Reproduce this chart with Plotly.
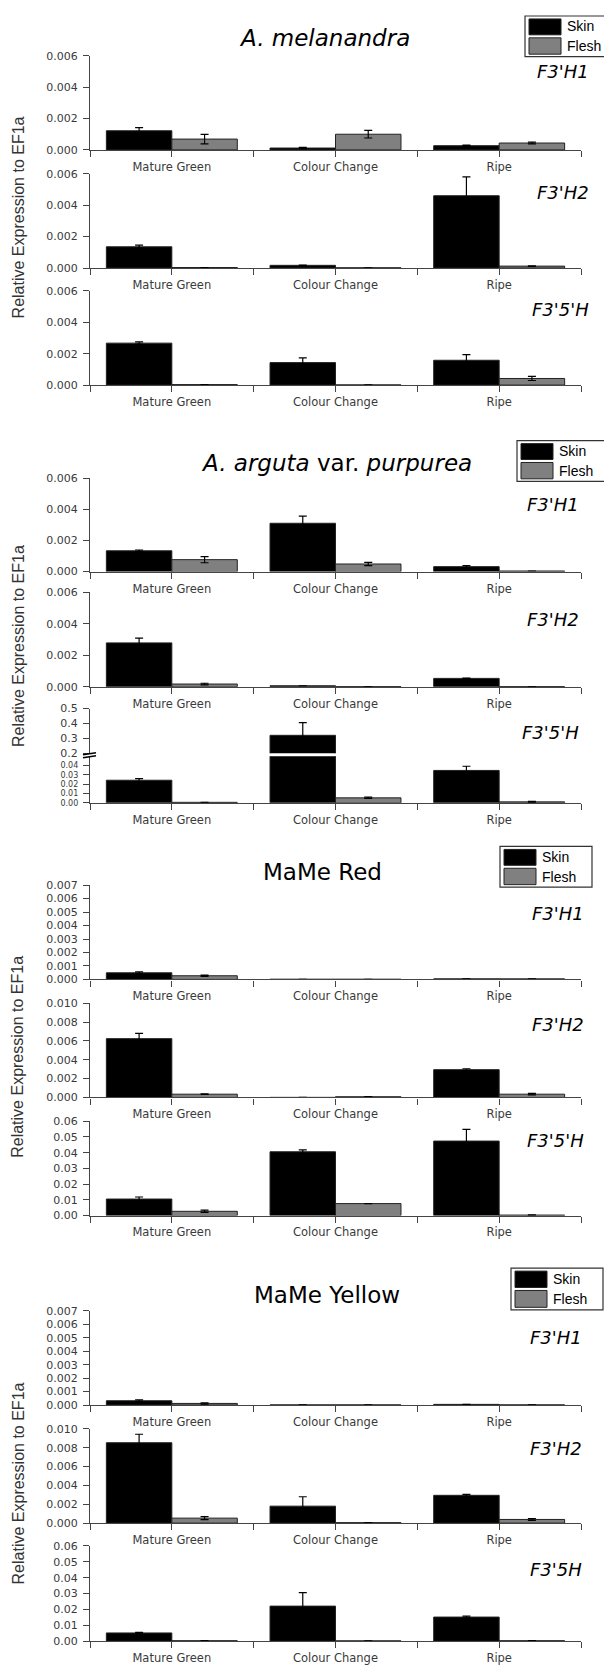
import plotly.graph_objects as go

W, H = 612, 1665

stages = ["Mature Green", "Colour Change", "Ripe"]
x_pos = [0, 1, 2]

# A. melanandra
mel_h1_skin = [0.00122, 0.00012, 0.00027]
mel_h1_skin_err = [0.0002, 0.00004, 0.00004]
mel_h1_flesh = [0.00069, 0.00100, 0.00044]
mel_h1_flesh_err = [0.0003, 0.00024, 0.00006]
mel_h2_skin = [0.00135, 0.00017, 0.0046]
mel_h2_skin_err = [0.0001, 0.00002, 0.0012]
mel_h2_flesh = [0.00003, 0.00001, 0.00012]
mel_h2_flesh_err = [0.0, 0.0, 0.00002]
mel_h35_skin = [0.00267, 0.00143, 0.00158]
mel_h35_skin_err = [0.00008, 0.0003, 0.00036]
mel_h35_flesh = [0.00003, 0.00001, 0.00042]
mel_h35_flesh_err = [0.0, 0.0, 0.00013]

# A. arguta var. purpurea
arg_h1_skin = [0.00134, 0.00311, 0.00032]
arg_h1_skin_err = [0.00005, 0.00046, 0.00006]
arg_h1_flesh = [0.00077, 0.00049, 0.00004]
arg_h1_flesh_err = [0.0002, 0.0001, 0.0]
arg_h2_skin = [0.00279, 0.00006, 0.00053]
arg_h2_skin_err = [0.0003, 0.0, 0.00002]
arg_h2_flesh = [0.00017, 0.00001, 0.00001]
arg_h2_flesh_err = [0.00005, 0.0, 0.0]
arg_h35_skin = [0.0242, 0.32, 0.0347]
arg_h35_skin_err = [0.0018, 0.085, 0.0045]
arg_h35_flesh = [0.0005, 0.0053, 0.001]
arg_h35_flesh_err = [0.0001, 0.0007, 0.0005]

# MaMe Red
red_h1_skin = [0.00049, 0.00001, 0.00004]
red_h1_skin_err = [0.00007, 0.0, 0.0]
red_h1_flesh = [0.00027, 0.00001, 0.00004]
red_h1_flesh_err = [0.00004, 0.0, 0.0]
red_h2_skin = [0.00624, 0.00001, 0.00295]
red_h2_skin_err = [0.00057, 0.0, 0.0001]
red_h2_flesh = [0.00035, 0.00008, 0.00035]
red_h2_flesh_err = [0.00003, 0.0, 0.00008]
red_h35_skin = [0.0105, 0.0406, 0.0474]
red_h35_skin_err = [0.0013, 0.0012, 0.0074]
red_h35_flesh = [0.0027, 0.0076, 0.0003]
red_h35_flesh_err = [0.0007, 0.0, 0.0002]

# MaMe Yellow
yel_h1_skin = [0.00032, 0.00001, 0.00005]
yel_h1_skin_err = [0.00006, 0.0, 0.0]
yel_h1_flesh = [0.00012, 0.00001, 0.00001]
yel_h1_flesh_err = [0.00005, 0.0, 0.0]
yel_h2_skin = [0.00853, 0.0018, 0.00295]
yel_h2_skin_err = [0.0009, 0.001, 0.0001]
yel_h2_flesh = [0.00053, 0.00005, 0.00039]
yel_h2_flesh_err = [0.00015, 0.0, 0.0001]
yel_h35_skin = [0.0052, 0.0221, 0.0152]
yel_h35_skin_err = [0.0004, 0.0085, 0.0006]
yel_h35_flesh = [0.0003, 0.0002, 0.0003]
yel_h35_flesh_err = [0.0, 0.0, 0.0]

SKIN = "black"
FLESH = "#808080"
AXIS = "#444444"
X0, X1 = 82, 573


def px(x):
    return x / W


def py(y):
    return 1 - y / H


fig = go.Figure()
layout = {}
shapes = []
annotations = []
n_axes = [0]


def add_subplot(top, bottom, yrange, yticks, fmt, skin, skin_err, flesh, flesh_err,
                show_x=True, ysize=11):
    n_axes[0] += 1
    n = n_axes[0]
    key = "" if n == 1 else str(n)
    xa, ya = "x" + key, "y" + key
    for vals, errs, color in [(skin, skin_err, SKIN), (flesh, flesh_err, FLESH)]:
        fig.add_trace(go.Bar(
            x=x_pos, y=vals, xaxis=xa, yaxis=ya, showlegend=False,
            marker=dict(color=color, line=dict(color="#222222", width=1)),
            error_y=dict(type="data", array=errs, color="black", thickness=1.2, width=4),
        ))
    layout["xaxis" + key] = dict(
        domain=[px(X0), px(X1)], anchor=ya, range=[-0.5, 2.5],
        tickmode="array", tickvals=x_pos, ticktext=stages,
        showticklabels=show_x, ticks="outside" if show_x else "", ticklen=6,
        tickcolor=AXIS, showline=show_x, linecolor=AXIS, linewidth=1.2,
        showgrid=False, zeroline=False,
        tickfont=dict(family="DejaVu Sans", size=11.5, color="#3a3a3a"),
        minor=dict(tickmode="array", tickvals=[-0.5, 0.5, 1.5, 2.5],
                   ticks="outside" if show_x else "", ticklen=6, tickcolor=AXIS, showgrid=False),
    )
    layout["yaxis" + key] = dict(
        domain=[py(bottom), py(top)], anchor=xa, range=yrange,
        tickmode="array", tickvals=yticks, tickformat=fmt,
        ticks="outside", ticklen=6, tickcolor=AXIS, showline=True,
        linecolor=AXIS, linewidth=1.2, showgrid=False, zeroline=False,
        tickfont=dict(family="DejaVu Sans", size=ysize, color="#3a3a3a"),
        ticklabelstandoff=3,
    )


def add_legend(left, top, right, bottom):
    mid = (top + bottom) / 2
    shapes.append(dict(type="rect", xref="paper", yref="paper", x0=px(left), x1=px(right),
                       y0=py(bottom), y1=py(top), line=dict(color="#333333", width=1.2),
                       fillcolor="white"))
    sw0, sw1 = left + 4, left + 36
    shapes.append(dict(type="rect", xref="paper", yref="paper", x0=px(sw0), x1=px(sw1),
                       y0=py(mid - 1.5), y1=py(top + 3), fillcolor=SKIN,
                       line=dict(color="#222222", width=1)))
    shapes.append(dict(type="rect", xref="paper", yref="paper", x0=px(sw0), x1=px(sw1),
                       y0=py(bottom - 2.5), y1=py(mid + 1.5), fillcolor=FLESH,
                       line=dict(color="#222222", width=1)))
    for txt, yc in [("Skin", (top + mid) / 2), ("Flesh", (mid + bottom) / 2)]:
        annotations.append(dict(text=txt, xref="paper", yref="paper", x=px(sw1 + 4), y=py(yc),
                                xanchor="left", yanchor="middle", showarrow=False,
                                font=dict(family="Liberation Sans, Arial, sans-serif",
                                          size=14, color="black")))


def add_text(txt, x, y, size, anchor="center", angle=0, color="black", family="DejaVu Sans"):
    annotations.append(dict(text=txt, xref="paper", yref="paper", x=px(x), y=py(y),
                            xanchor=anchor, yanchor="middle", showarrow=False, textangle=angle,
                            font=dict(family=family, size=size, color=color)))


YTITLE = "Relative Expression to EF1a"
YFONT = "Liberation Sans, Arial, sans-serif"
t3 = [0, 0.002, 0.004, 0.006]
t7 = [0, 0.001, 0.002, 0.003, 0.004, 0.005, 0.006, 0.007]
t10 = [0, 0.002, 0.004, 0.006, 0.008, 0.010]
t06 = [0, 0.01, 0.02, 0.03, 0.04, 0.05, 0.06]

# Panel 1: A. melanandra
add_subplot(42, 137, [0, 0.006], t3, ".3f", mel_h1_skin, mel_h1_skin_err, mel_h1_flesh, mel_h1_flesh_err)
add_subplot(161, 256, [0, 0.006], t3, ".3f", mel_h2_skin, mel_h2_skin_err, mel_h2_flesh, mel_h2_flesh_err)
add_subplot(279, 374, [0, 0.006], t3, ".3f", mel_h35_skin, mel_h35_skin_err, mel_h35_flesh, mel_h35_flesh_err)
add_text("<i>A. melanandra</i>", 316, 24, 23)
add_legend(517, 2, 605, 43)
add_text("<i>F3'H1</i>", 583, 58, 18, "right")
add_text("<i>F3'H2</i>", 583, 180, 18, "right")
add_text("<i>F3'5'H</i>", 583, 298, 18, "right")
add_text(YTITLE, 10, 205, 16, angle=-90, color="#333333", family=YFONT)

# Panel 2: A. arguta var. purpurea (broken axis on F3'5'H)
add_subplot(468, 562, [0, 0.006], t3, ".3f", arg_h1_skin, arg_h1_skin_err, arg_h1_flesh, arg_h1_flesh_err)
add_subplot(583, 678, [0, 0.006], t3, ".3f", arg_h2_skin, arg_h2_skin_err, arg_h2_flesh, arg_h2_flesh_err)
add_subplot(748, 795, [0, 0.05], [0, 0.01, 0.02, 0.03, 0.04], ".2f",
            arg_h35_skin, arg_h35_skin_err, arg_h35_flesh, arg_h35_flesh_err, ysize=8)
add_subplot(700, 745, [0.2, 0.5], [0.2, 0.3, 0.4, 0.5], ".1f",
            arg_h35_skin, arg_h35_skin_err, arg_h35_flesh, arg_h35_flesh_err, show_x=False)
add_text("<i>A. arguta</i> var. <i>purpurea</i>", 328, 453, 23)
add_legend(509, 430, 600, 471)
add_text("<i>F3'H1</i>", 573, 494, 18, "right")
add_text("<i>F3'H2</i>", 573, 610, 18, "right")
add_text("<i>F3'5'H</i>", 573, 724, 18, "right")
add_text(YTITLE, 10, 637, 16, angle=-90, color="#333333", family=YFONT)
# axis break mark
for dy in (0, 3):
    shapes.append(dict(type="line", xref="paper", yref="paper", x0=px(75), x1=px(88),
                       y0=py(746.5 + dy), y1=py(744.5 + dy), line=dict(color="black", width=1.5)))

# Panel 3: MaMe Red
add_subplot(878, 973, [0, 0.007], t7, ".3f", red_h1_skin, red_h1_skin_err, red_h1_flesh, red_h1_flesh_err)
add_subplot(997, 1092, [0, 0.010], t10, ".3f", red_h2_skin, red_h2_skin_err, red_h2_flesh, red_h2_flesh_err)
add_subplot(1116, 1211, [0, 0.06], t06, ".2f", red_h35_skin, red_h35_skin_err, red_h35_flesh, red_h35_flesh_err)
add_text("MaMe Red", 314, 865, 23)
add_legend(492, 839, 584, 880)
add_text("<i>F3'H1</i>", 578, 907, 18, "right")
add_text("<i>F3'H2</i>", 578, 1018, 18, "right")
add_text("<i>F3'5'H</i>", 578, 1135, 18, "right")
add_text(YTITLE, 10, 1051, 16, angle=-90, color="#333333", family=YFONT)

# Panel 4: MaMe Yellow
add_subplot(1307, 1402, [0, 0.007], t7, ".3f", yel_h1_skin, yel_h1_skin_err, yel_h1_flesh, yel_h1_flesh_err)
add_subplot(1426, 1521, [0, 0.010], t10, ".3f", yel_h2_skin, yel_h2_skin_err, yel_h2_flesh, yel_h2_flesh_err)
add_subplot(1544, 1640, [0, 0.06], t06, ".2f", yel_h35_skin, yel_h35_skin_err, yel_h35_flesh, yel_h35_flesh_err)
add_text("MaMe Yellow", 319, 1291, 23)
add_legend(503, 1264, 595, 1306)
add_text("<i>F3'H1</i>", 576, 1334, 18, "right")
add_text("<i>F3'H2</i>", 576, 1446, 18, "right")
add_text("<i>F3'5H</i>", 576, 1568, 18, "right")
add_text(YTITLE, 10, 1481, 16, angle=-90, color="#333333", family=YFONT)

fig.update_layout(
    width=W, height=H, margin=dict(l=0, r=0, t=0, b=0),
    paper_bgcolor="white", plot_bgcolor="white",
    barmode="group", bargap=0.2, bargroupgap=0,
    shapes=shapes, annotations=annotations,
    font=dict(family="DejaVu Sans"),
    **layout,
)

fig.write_html("out.html")
